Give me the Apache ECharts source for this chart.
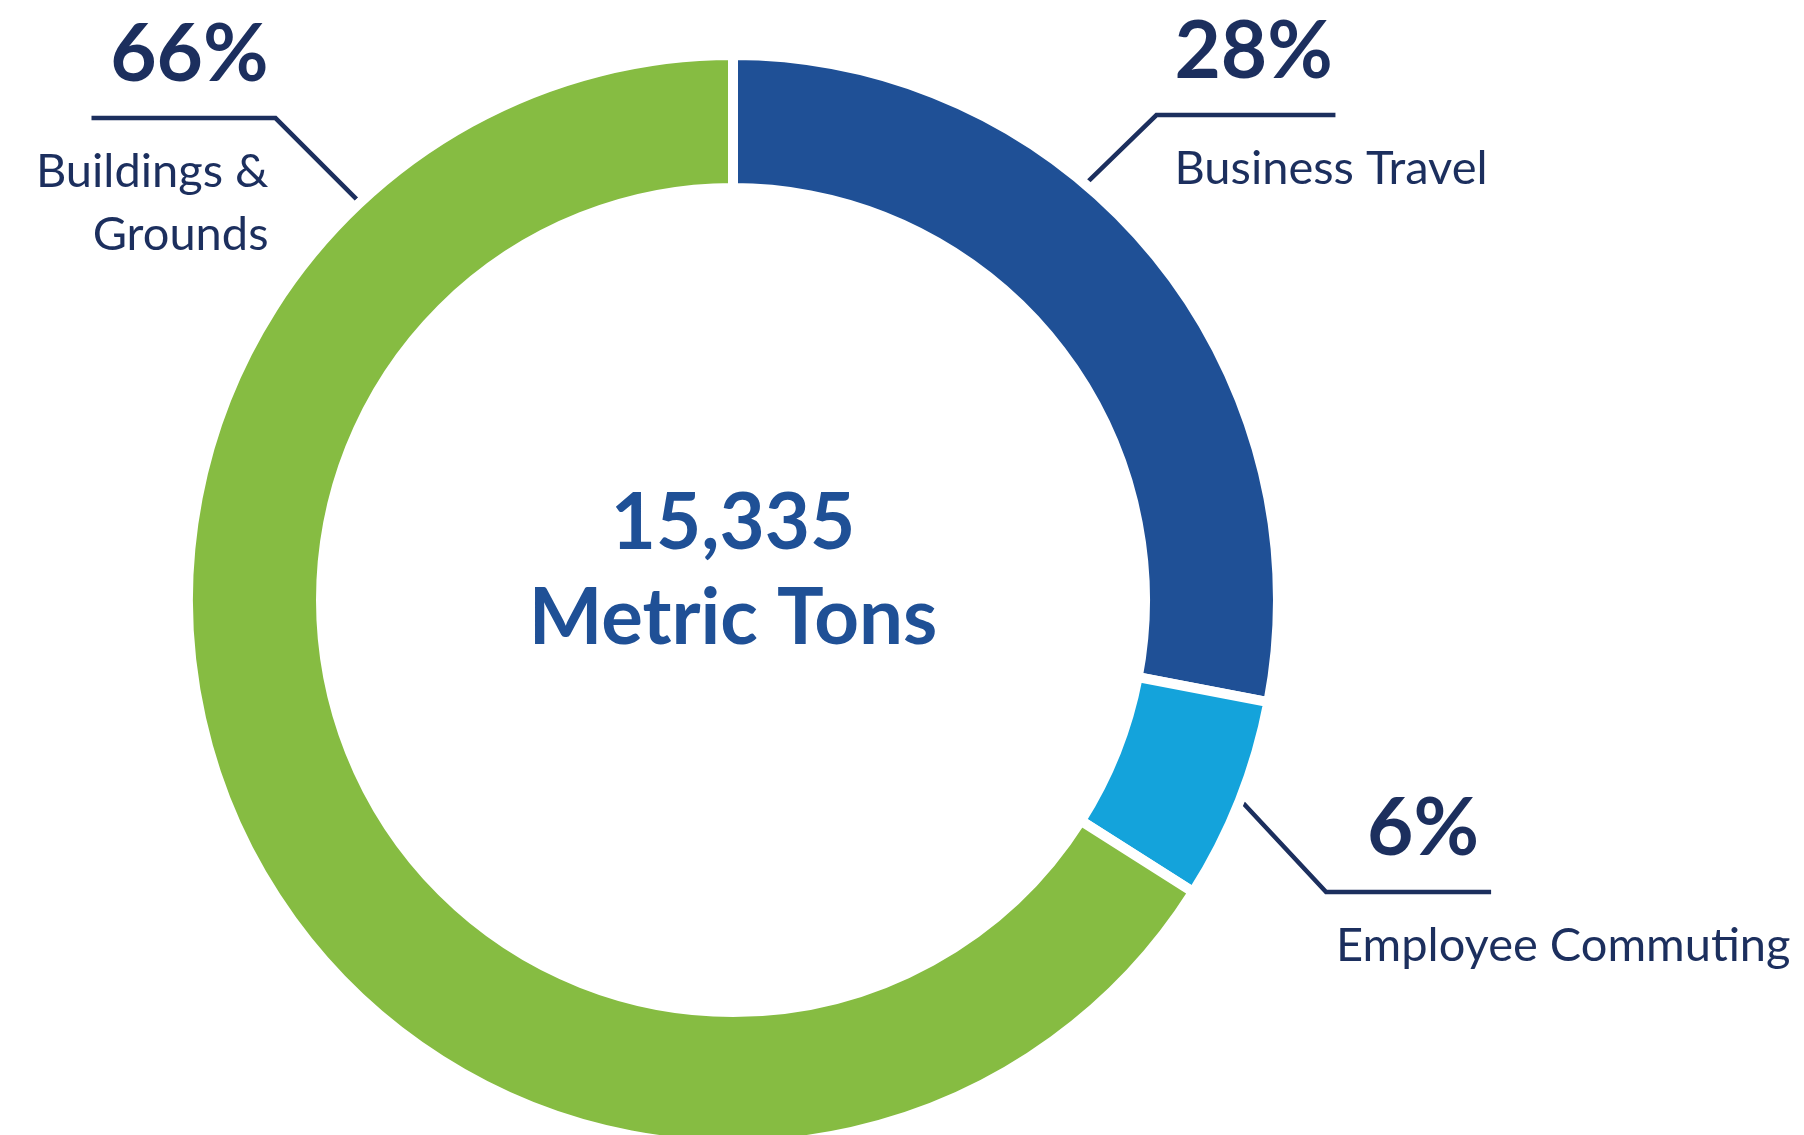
<!DOCTYPE html>
<html>
<head>
<meta charset="utf-8">
<script src="https://cdn.jsdelivr.net/npm/echarts@6/dist/echarts.min.js"></script>
<style>
  html, body { margin: 0; padding: 0; background: #ffffff; }
  #chart { width: 1804px; height: 1135px; }
</style>
</head>
<body>
<div id="chart"></div>
<script>
// ---- data ----
const categories = ['Business Travel', 'Employee Commuting', 'Buildings & Grounds'];
const shares = [28, 6, 66];             // percent of total emissions
const totalValue = '15,335';
const totalUnit = 'Metric Tons';

// ---- style / layout ----
const sliceColors = ['#1f5096', '#14a3db', '#86bc42'];
const navy = '#1c2f5e';
const CENTER = [733, 600];
const R_IN = 417, R_OUT = 540, GAP = 10;
// leader line geometry per slice: anchor angle (deg, clockwise from 12 o'clock),
// anchor radius, diagonal run, horizontal run, text offset from elbow
const leaders = [
  { angle: 40.3,  r: 548, dx: 69,  dy: -67, run: 179,  textDx: 18, align: 'left',  pStyle: 'p'  },
  { angle: 111.7, r: 549, dx: 83,  dy: 89,  run: 165,  textDx: 10, align: 'left',  pStyle: 'pi' },
  { angle: -43.2, r: 550, dx: -81, dy: -81, run: -184, textDx: -7, align: 'right', pStyle: 'pr' }
];

const chart = echarts.init(document.getElementById('chart'));

const pBase = { fontFamily: 'Lato', fontWeight: 'bold', fontSize: 80, lineHeight: 170, color: navy };
const nBase = { fontFamily: 'Lato', fontSize: 47, lineHeight: 63, color: navy };

const option = {
  animation: false,
  backgroundColor: '#ffffff',
  color: sliceColors,
  graphic: [{
    type: 'text',
    x: CENTER[0],
    y: CENTER[1] - 29,
    style: {
      text: totalValue + '\n' + totalUnit,
      fill: '#1f5096',
      font: 'bold 78px Lato',
      lineHeight: 95,
      textAlign: 'center',
      textVerticalAlign: 'middle'
    }
  }],
  series: [{
    type: 'pie',
    center: CENTER,
    radius: [R_IN - GAP / 2, R_OUT + GAP / 2],
    startAngle: 90,
    clockwise: true,
    avoidLabelOverlap: false,
    silent: true,
    itemStyle: { borderColor: '#ffffff', borderWidth: GAP, borderJoin: 'miter' },
    label: {
      show: true,
      position: 'outside',
      formatter: function (p) {
        const g = leaders[p.dataIndex];
        const name = p.name.replace(' & ', ' &\n').split('\n')
          .map(s => '{' + (g.align === 'right' ? 'nr' : 'n') + '|' + s + '}').join('\n');
        return '{' + g.pStyle + '|' + Math.round(p.percent) + '%}\n' + name;
      },
      rich: {
        p:  Object.assign({}, pBase, { align: 'left' }),
        pi: Object.assign({}, pBase, { align: 'left', padding: [0, 0, 0, 31] }),
        pr: Object.assign({}, pBase, { align: 'right' }),
        n:  Object.assign({}, nBase, { align: 'left' }),
        nr: Object.assign({}, nBase, { align: 'right' })
      }
    },
    labelLine: {
      show: true,
      length: 20,
      length2: 20,
      lineStyle: { color: navy, width: 4.5 }
    },
    labelLayout: function (params) {
      const g = leaders[params.dataIndex];
      const a = g.angle * Math.PI / 180;
      const sx = CENTER[0] + g.r * Math.sin(a);
      const sy = CENTER[1] - g.r * Math.cos(a);
      const ex = sx + g.dx, ey = sy + g.dy;
      return {
        x: ex + g.textDx,
        y: ey - 147.5,
        align: g.align,
        verticalAlign: 'top',
        labelLinePoints: [[sx, sy], [ex, ey], [ex + g.run, ey]]
      };
    },
    data: categories.map((c, i) => ({ name: c, value: shares[i] }))
  }]
};

chart.setOption(option);
</script>
</body>
</html>
